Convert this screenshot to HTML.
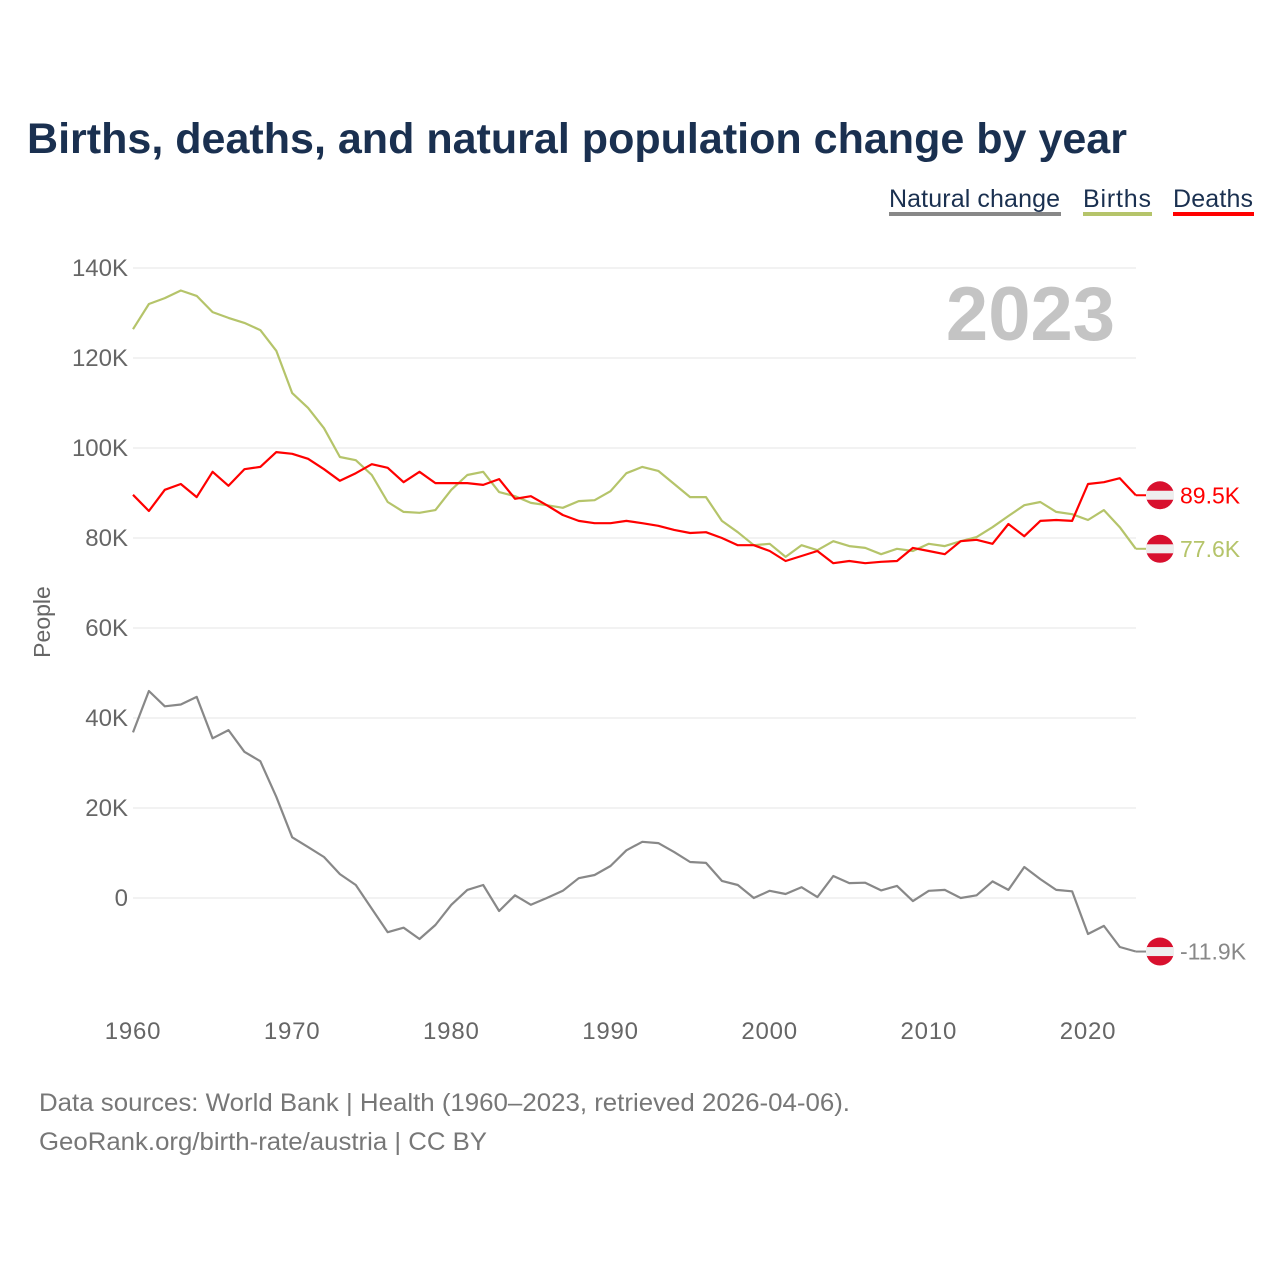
<!DOCTYPE html>
<html><head><meta charset="utf-8"><style>
body{margin:0;background:#fff;font-family:"Liberation Sans",sans-serif}
</style></head><body>
<svg width="1280" height="1280" xmlns="http://www.w3.org/2000/svg">
<text x="27" y="153" font-size="43" font-weight="bold" fill="#1a3050" textLength="1100" lengthAdjust="spacingAndGlyphs">Births, deaths, and natural population change by year</text>
<g font-size="25">
<g><text x="889" y="207" fill="#1a3050" textLength="171">Natural change</text><rect x="889" y="212" width="172" height="4" fill="#888"/></g>
<g><text x="1083" y="207" fill="#1a3050" textLength="68">Births</text><rect x="1083" y="212" width="69" height="4" fill="#b5c46a"/></g>
<g><text x="1173" y="207" fill="#1a3050" textLength="80">Deaths</text><rect x="1173" y="212" width="81" height="4" fill="#f00"/></g>
</g>
<g id="grid"></g>
<g id="yt" font-size="24" fill="#666"></g>
<g id="xt" font-size="24" fill="#666" letter-spacing="0.8"></g>
<text transform="translate(50,622) rotate(-90)" text-anchor="middle" font-size="23" fill="#666">People</text>
<text x="1115" y="340" text-anchor="end" font-size="76" font-weight="bold" fill="#c4c4c4">2023</text>
<g id="series"></g>
<g id="ends"></g>
<text x="39" y="1111" font-size="25" fill="#777" textLength="811" lengthAdjust="spacingAndGlyphs">Data sources: World Bank | Health (1960–2023, retrieved 2026-04-06).</text>
<text x="39" y="1150" font-size="25" fill="#777" textLength="448" lengthAdjust="spacingAndGlyphs">GeoRank.org/birth-rate/austria | CC BY</text>
</svg>
<script>
const years=[];for(let y=1960;y<=2023;y++)years.push(y);
const births=[126.4,132,133.3,135,133.8,130.2,128.9,127.8,126.2,121.6,112.2,108.9,104.4,98,97.3,94,88,85.8,85.6,86.2,90.7,94,94.7,90.2,89.3,87.8,87.3,86.7,88.2,88.4,90.4,94.4,95.8,94.9,92,89.1,89.1,83.8,81.3,78.4,78.7,75.8,78.4,77.3,79.3,78.2,77.8,76.4,77.6,77.1,78.7,78.2,79.3,80.2,82.4,84.9,87.3,88,85.8,85.3,84,86.2,82.4,77.6];
const deaths=[89.6,86,90.7,92,89.1,94.7,91.6,95.3,95.8,99.1,98.7,97.6,95.3,92.7,94.4,96.4,95.6,92.4,94.7,92.2,92.2,92.2,91.8,93.1,88.7,89.3,87.3,85.1,83.8,83.3,83.3,83.8,83.3,82.7,81.8,81.1,81.3,80,78.4,78.4,77.1,74.9,76,77.1,74.4,74.9,74.4,74.7,74.9,77.8,77.1,76.4,79.3,79.6,78.7,83.1,80.4,83.8,84,83.8,92,92.4,93.3,89.5];
const natural=births.map((b,i)=>+(b-deaths[i]).toFixed(1));
const yTicks=[0,20,40,60,80,100,120,140];
const yTickLabels=["0","20K","40K","60K","80K","100K","120K","140K"];
const xTicks=[1960,1970,1980,1990,2000,2010,2020];
const NS="http://www.w3.org/2000/svg";
const X=y=>133+(y-1960)*(1088-133)/60;
const Y=v=>898-v*4.5;
function mk(t,a,p){const e=document.createElementNS(NS,t);for(const k in a)e.setAttribute(k,a[k]);p.appendChild(e);return e;}
const grid=document.getElementById('grid'),yt=document.getElementById('yt'),xt=document.getElementById('xt');
yTicks.forEach((v,i)=>{
 const l=mk('line',{x1:133,x2:1136,y1:Y(v),y2:Y(v),stroke:'#e6e6e6','stroke-width':1},grid);
 
 
 const t=mk('text',{x:128,y:Y(v)+8,'text-anchor':'end'},yt);t.textContent=yTickLabels[i];
 
 
});
xTicks.forEach(v=>{
 const t=mk('text',{x:X(v),y:1039,'text-anchor':'middle'},xt);t.textContent=v;
 
 
});
const S=document.getElementById('series'),E=document.getElementById('ends');
[[natural,'#888','natural-change-line'],[births,'#b5c46a','births-line'],[deaths,'#f00','deaths-line']].forEach(([d,c,n])=>{
 const p=mk('path',{d:d.map((v,i)=>(i?'L':'M')+X(years[i]).toFixed(1)+','+Y(v).toFixed(1)).join(''),fill:'none',stroke:c,'stroke-width':2.2,'stroke-linejoin':'round'},S);
 
 
 const v=d[d.length-1],cy=Y(v),ex=X(2023);
 mk('line',{x1:ex,x2:1150,y1:cy,y2:cy,stroke:c,'stroke-width':2},E);
 const g=mk('g',{},E);
 
 
 mk('circle',{cx:1160,cy:cy,r:14,fill:'#d8102e'},g);
 mk('rect',{x:1146,y:cy-4.5,width:28,height:9,fill:'#eee'},g);
 const t=mk('text',{x:1180,y:cy+8,'font-size':23,fill:c},E);
 t.textContent=(v<0?'-':'')+Math.abs(v).toFixed(1)+'K';
 
 
});
</script>
</body></html>
